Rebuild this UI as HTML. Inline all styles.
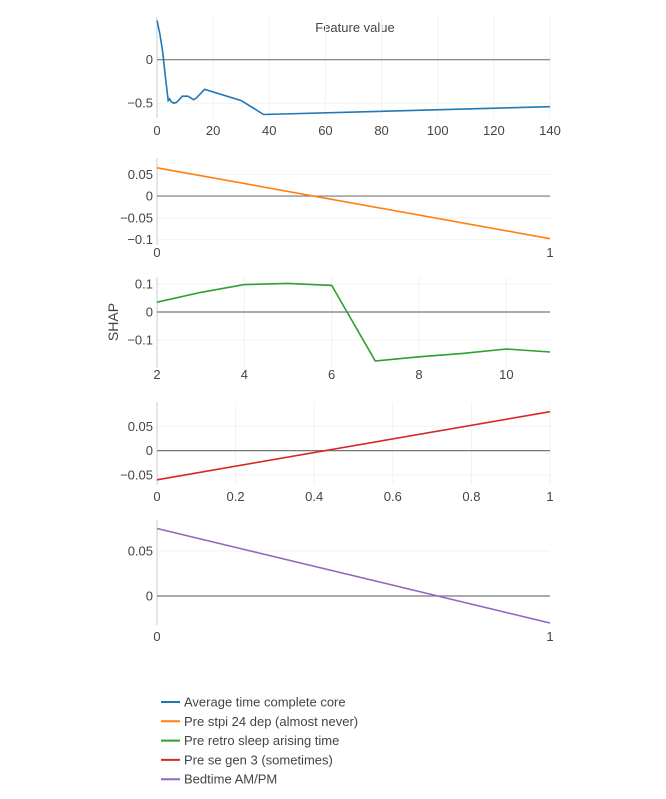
<!DOCTYPE html>
<html><head><meta charset="utf-8">
<style>
html,body{margin:0;padding:0;background:#fff;}
svg{display:block;font-family:"Liberation Sans",sans-serif;}
text{fill:#444;}
</style></head>
<body>
<svg id="chart" width="666" height="799">
<text x="355" y="32" text-anchor="middle" font-size="13">Feature value</text>
<text x="118" y="322" text-anchor="middle" font-size="14" transform="rotate(-90 118 322)">SHAP</text>
</svg>
<script>
// Panel 1: Average time complete core
const p1X = [0,1,2,3,4,4.5,5,6,7,9,11,13,14,17,30,38,140];
const p1Y = [0.45,0.3,0.1,-0.2,-0.47,-0.45,-0.48,-0.5,-0.49,-0.42,-0.42,-0.46,-0.44,-0.34,-0.47,-0.63,-0.54];
const p1XTicks = [0,20,40,60,80,100,120,140];
const p1YTicks = [0,-0.5];
const p1YTickLabels = ["0","−0.5"];
// Panel 2: Pre stpi 24 dep
const p2X = [0,1];
const p2Y = [0.065,-0.098];
const p2XTicks = [0,1];
const p2YTicks = [0.05,0,-0.05,-0.1];
const p2YTickLabels = ["0.05","0","−0.05","−0.1"];
// Panel 3: Pre retro sleep arising time
const p3X = [2,3,4,5,6,7,8,9,10,11];
const p3Y = [0.035,0.07,0.098,0.102,0.095,-0.175,-0.16,-0.148,-0.132,-0.143];
const p3XTicks = [2,4,6,8,10];
const p3YTicks = [0.1,0,-0.1];
const p3YTickLabels = ["0.1","0","−0.1"];
// Panel 4: Pre se gen 3
const p4X = [0,1];
const p4Y = [-0.06,0.08];
const p4XTicks = [0,0.2,0.4,0.6,0.8,1];
const p4YTicks = [0.05,0,-0.05];
const p4YTickLabels = ["0.05","0","−0.05"];
// Panel 5: Bedtime AM/PM
const p5X = [0,1];
const p5Y = [0.075,-0.03];
const p5XTicks = [0,1];
const p5YTicks = [0.05,0];
const p5YTickLabels = ["0.05","0"];
// Legend
const legendNames = ["Average time complete core","Pre stpi 24 dep (almost never)","Pre retro sleep arising time","Pre se gen 3 (sometimes)","Bedtime AM/PM"];
const colors = ["#1f77b4","#ff7f0e","#2ca02c","#d62728","#9467bd"];

const NS="http://www.w3.org/2000/svg";
const svg=document.getElementById('chart');
function mk(tag,attrs,parent){const e=document.createElementNS(NS,tag);for(const k in attrs)e.setAttribute(k,attrs[k]);(parent||svg).appendChild(e);return e;}

const L=157,R=550;
const panels=[
 {x:p1X,y:p1Y,xt:p1XTicks,yt:p1YTicks,ytl:p1YTickLabels,xmin:0,xmax:140,top:17,bot:118,ymax:0.49,ymin:-0.67,lab:135,grid:true},
 {x:p2X,y:p2Y,xt:p2XTicks,yt:p2YTicks,ytl:p2YTickLabels,xmin:0,xmax:1,top:158,bot:245,ymax:0.0875,ymin:-0.1125,lab:257,grid:false},
 {x:p3X,y:p3Y,xt:p3XTicks,yt:p3YTicks,ytl:p3YTickLabels,xmin:2,xmax:11,top:277,bot:368,ymax:0.125,ymin:-0.2,lab:379,grid:true},
 {x:p4X,y:p4Y,xt:p4XTicks,yt:p4YTicks,ytl:p4YTickLabels,xmin:0,xmax:1,top:402,bot:485,ymax:0.1,ymin:-0.0708,lab:501,grid:true},
 {x:p5X,y:p5Y,xt:p5XTicks,yt:p5YTicks,ytl:p5YTickLabels,xmin:0,xmax:1,top:520,bot:625,ymax:0.0844,ymin:-0.0322,lab:641,grid:false}
];
panels.forEach((p,i)=>{
  const g=mk('g',{});
  
  
  const sx=v=>L+(v-p.xmin)/(p.xmax-p.xmin)*(R-L);
  const sy=v=>p.top+(p.ymax-v)/(p.ymax-p.ymin)*(p.bot-p.top);
  p.xt.forEach(t=>{
    if(p.grid && t!==p.xmin){const gl=mk('line',{x1:sx(t),x2:sx(t),y1:p.top,y2:p.bot,stroke:'#f2f2f2','stroke-width':1},g);
      
      }
    const tx=mk('text',{x:sx(t),y:p.lab,'text-anchor':'middle','font-size':13},g);
    tx.textContent=String(t);
    
    
  });
  p.yt.forEach((t,j)=>{
    if(t!==0){const gl=mk('line',{x1:L,x2:R,y1:sy(t),y2:sy(t),stroke:'#f2f2f2','stroke-width':1},g);
      
      }
    const tx=mk('text',{x:L-4,y:sy(t)+4.5,'text-anchor':'end','font-size':13},g);
    tx.textContent=p.ytl[j];
    
    
  });
  const ax=mk('line',{x1:L,x2:L,y1:p.top,y2:p.bot,stroke:'#ccc','stroke-width':1},g);
  
  
  const z=mk('line',{x1:L,x2:R,y1:sy(0),y2:sy(0),stroke:'#777','stroke-width':1.2},g);
  
  
  const pts=p.x.map((v,k)=>sx(v).toFixed(1)+','+sy(p.y[k]).toFixed(1)).join(' ');
  const pl=mk('polyline',{points:pts,fill:'none',stroke:colors[i],'stroke-width':1.6},g);
  
  
});
legendNames.forEach((n,i)=>{
  const y=702+i*19.3;
  const g=mk('g',{});
  
  
  mk('line',{x1:161,x2:180,y1:y,y2:y,stroke:colors[i],'stroke-width':2},g);
  const t=mk('text',{x:184,y:y+4.5,'font-size':13},g);
  t.textContent=n;
});
</script>
</body></html>
